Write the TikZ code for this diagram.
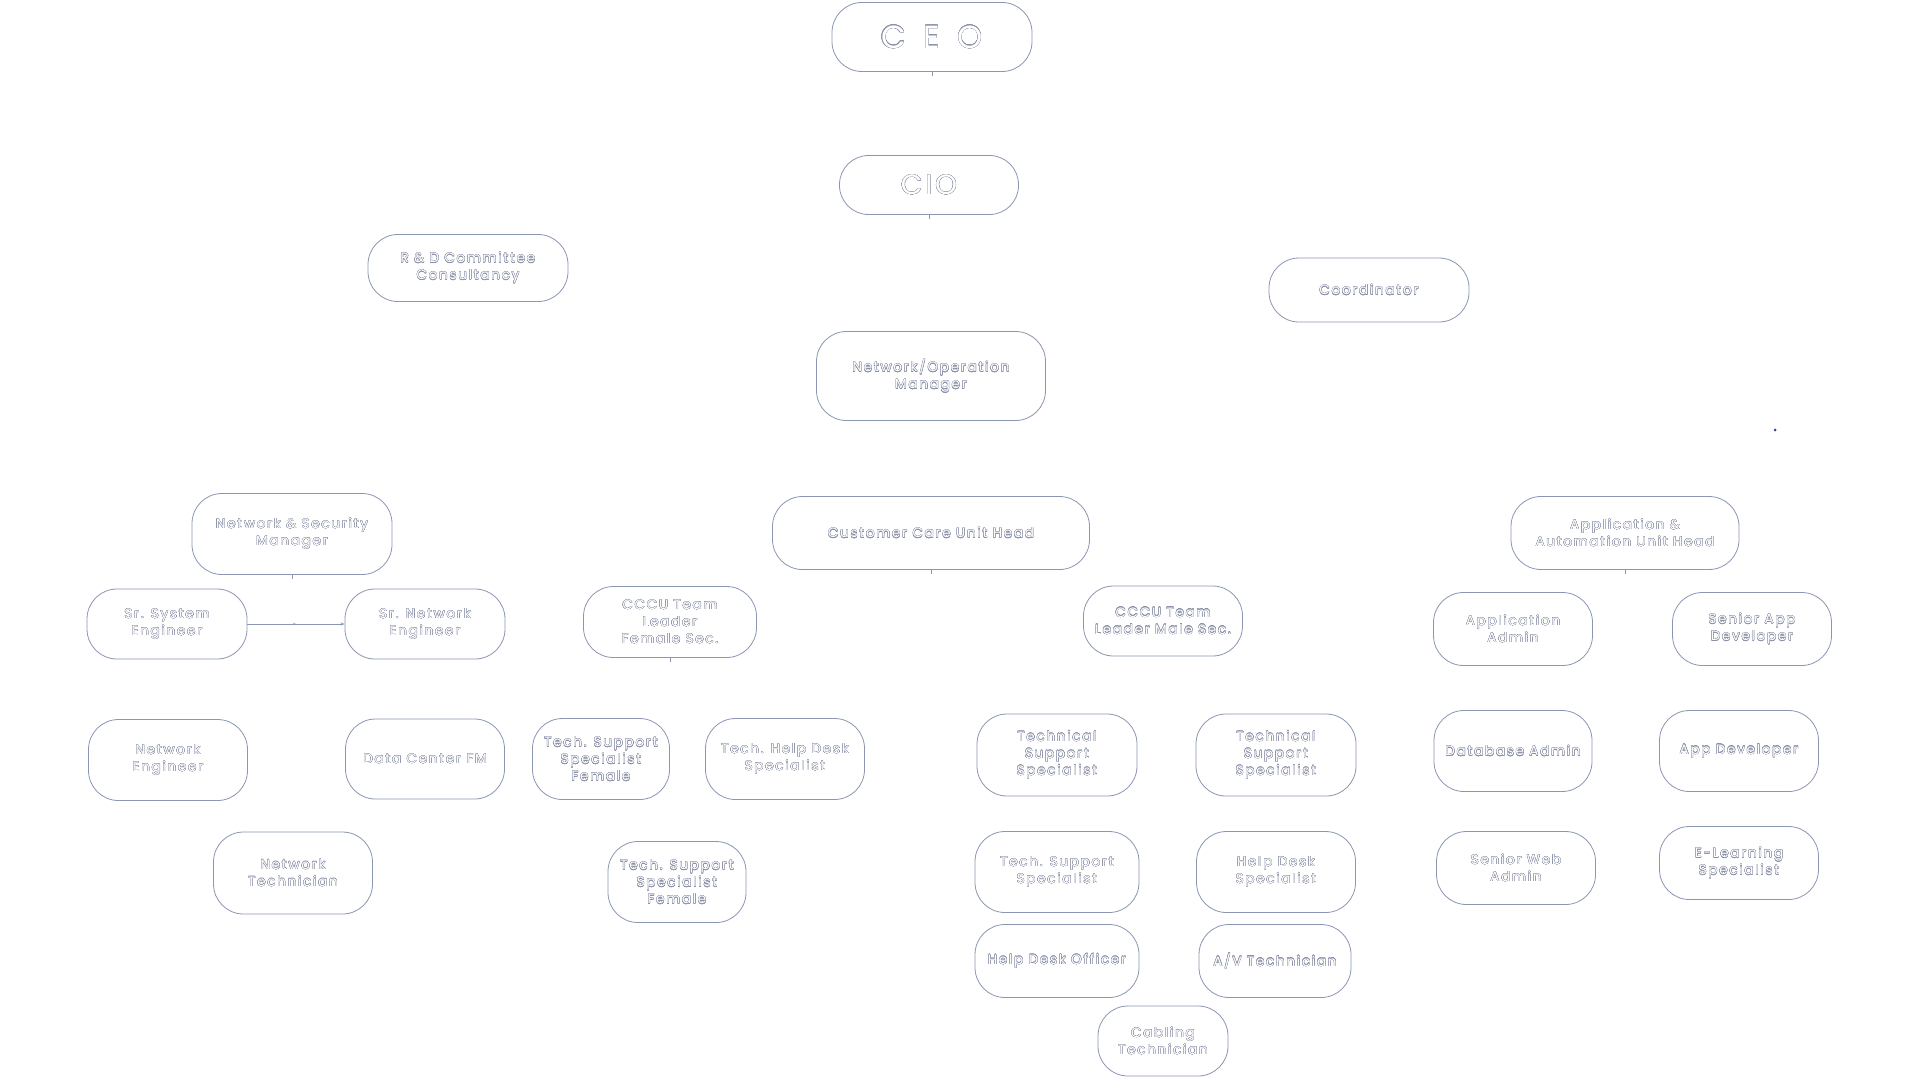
\documentclass[tikz,border=0pt]{standalone}
\usepackage{fontspec}
\setmainfont{Poppins}
\usepackage[copies]{contour}
\usetikzlibrary{arrows.meta,decorations.markings}
\definecolor{edge}{RGB}{138,150,178}
\definecolor{inkline}{RGB}{140,146,168}
\definecolor{dotblue}{RGB}{40,70,150}

% white lettering with a thin grey rim
\contourlength{0.3pt}
\newcommand{\wt}[1]{\contour{inkline}{\textcolor{white}{#1}}}
\newcommand{\unitfont}{\fontsize{13.5}{17}\selectfont\addfontfeatures{LetterSpace=13}}

\begin{document}
\begin{tikzpicture}[x=1pt, y=-1pt,
    unit/.style={draw=edge, line width=0.8pt, fill=white, rounded corners=30pt, align=center,
      font=\unitfont, inner sep=2pt, minimum width=159pt, minimum height=72pt},
    link/.style={draw=edge, line width=0.8pt}]
    \useasboundingbox (0,0) rectangle (1920,1080);

    % top of the chart
    \node [unit, minimum width=200pt, minimum height=69pt, font=\fontsize{32}{36}\selectfont\addfontfeatures{LetterSpace=55}] (ceo) at (932,37) {\wt{CEO}};
    \node [unit, minimum width=179pt, minimum height=59pt, rounded corners=29pt, font=\fontsize{28}{32}\selectfont\addfontfeatures{LetterSpace=10}] (cio) at (929,185) {\wt{CIO}};
    \node [unit, minimum width=200pt, minimum height=67pt] (rnd) at (468,268) {\wt{R \& D Committee}\\\wt{Consultancy}};
    \node [unit, minimum width=200pt, minimum height=64pt] (coord) at (1369,290) {\wt{Coordinator}};
    \node [unit, minimum width=229pt, minimum height=89pt] (nom) at (931,376) {\wt{Network/Operation}\\\wt{Manager}};

    % unit heads
    \node [unit, minimum width=200pt, minimum height=81pt] (nsm) at (292,534) {\wt{Network \& Security}\\\wt{Manager}};
    \node [unit, minimum width=317pt, minimum height=73pt] (ccu) at (931,533) {\wt{Customer Care Unit Head}};
    \node [unit, minimum width=228pt, minimum height=73pt] (aau) at (1625,533) {\wt{Application \&}\\\wt{Automation Unit Head}};

    % network side
    \node [unit, minimum width=160pt, minimum height=70pt] (sse) at (167,624) {\wt{Sr. System}\\\wt{Engineer}};
    \node [unit, minimum width=160pt, minimum height=70pt] (sne) at (425,624) {\wt{Sr. Network}\\\wt{Engineer}};
    \node [unit, minimum height=81pt] (ne) at (168,760) {\wt{Network}\\\wt{Engineer}};
    \node [unit, minimum height=80pt] (dcfm) at (425,759) {\wt{Data Center FM}};
    \node [unit, minimum height=82pt] (ntech) at (293,873) {\wt{Network}\\\wt{Technician}};

    % customer care, female section
    \node [unit, minimum width=173pt, minimum height=71pt] (cccuf) at (670,622) {\wt{CCCU Team}\\\wt{Leader}\\\wt{Female Sec.}};
    \node [unit, minimum width=137pt, minimum height=81pt] (tssfa) at (601,759) {\wt{Tech. Support}\\\wt{Specialist}\\\wt{Female}};
    \node [unit, minimum height=81pt] (thds) at (785,759) {\wt{Tech. Help Desk}\\\wt{Specialist}};
    \node [unit, minimum width=138pt, minimum height=81pt] (tssfb) at (677,882) {\wt{Tech. Support}\\\wt{Specialist}\\\wt{Female}};

    % customer care, male section
    \node [unit, minimum height=70pt] (cccum) at (1163,621) {\wt{CCCU Team}\\\wt{Leader Male Sec.}};
    \node [unit, minimum width=160pt, minimum height=82pt] (tsa) at (1057,755) {\wt{Technical}\\\wt{Support}\\\wt{Specialist}};
    \node [unit, minimum width=160pt, minimum height=82pt] (tsb) at (1276,755) {\wt{Technical}\\\wt{Support}\\\wt{Specialist}};
    \node [unit, minimum width=164pt, minimum height=81pt] (tsc) at (1057,872) {\wt{Tech. Support}\\\wt{Specialist}};
    \node [unit, minimum height=81pt] (hds) at (1276,872) {\wt{Help Desk}\\\wt{Specialist}};
    \node [unit, minimum width=164pt, minimum height=73pt] (hdo) at (1057,961) {\wt{Help Desk Officer}};
    \node [unit, minimum width=152pt, minimum height=73pt] (avt) at (1275,961) {\wt{A/V Technician}};
    \node [unit, minimum width=130pt, minimum height=70pt] (cabt) at (1163,1041) {\wt{Cabling}\\\wt{Technician}};

    % applications side
    \node [unit, minimum height=73pt] (appadm) at (1513,629) {\wt{Application}\\\wt{Admin}};
    \node [unit, minimum height=73pt] (sappdev) at (1752,629) {\wt{Senior App}\\\wt{Developer}};
    \node [unit, minimum width=158pt, minimum height=81pt] (dba) at (1513,751) {\wt{Database Admin}};
    \node [unit, minimum height=81pt] (appdev) at (1739,751) {\wt{App Developer}};
    \node [unit, minimum height=73pt] (swa) at (1516,868) {\wt{Senior Web}\\\wt{Admin}};
    \node [unit, minimum height=73pt] (els) at (1739,863) {\wt{E-Learning}\\\wt{Specialist}};

    % connectors
    \draw [link, -{Stealth[length=4pt]}, postaction={decorate},
      decoration={markings, mark=at position 0.5 with {\arrow{Stealth[length=3pt]}}}] (sse) -- (sne);
    \foreach \n in {ceo,cio,nsm,ccu,cccuf,aau}
      \draw [link] (\n.south) -- ++(0,4);

    \fill [dotblue] (1775,430) circle (1.5pt);
\end{tikzpicture}
\end{document}
